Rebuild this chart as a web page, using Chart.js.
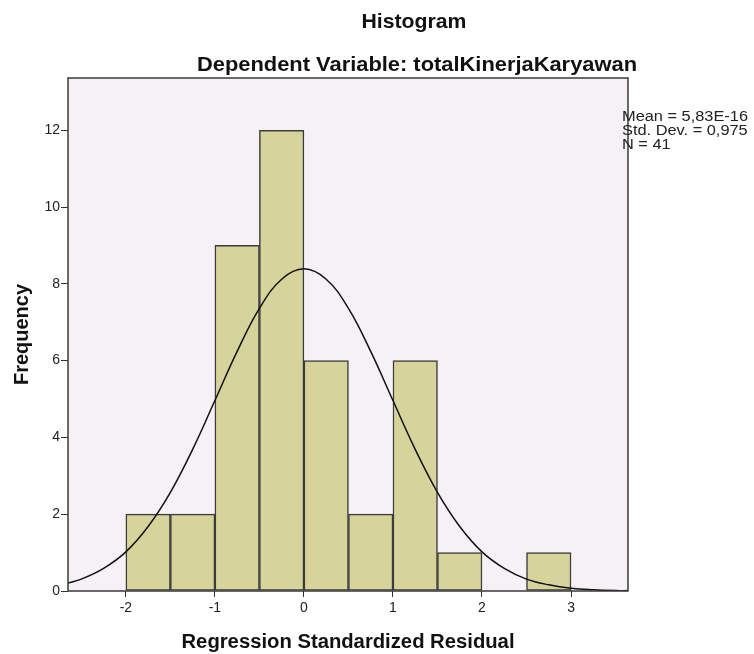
<!DOCTYPE html>
<html>
<head>
<meta charset="utf-8">
<script src="https://cdn.jsdelivr.net/npm/chart.js@4.4.0/dist/chart.umd.min.js"></script>
<style>
  html, body { margin: 0; padding: 0; background: #fff; }
  #wrap { width: 754px; height: 654px; position: relative; }
</style>
</head>
<body>
<div id="wrap"><canvas id="histo" width="754" height="654"></canvas></div>
<script>
// histogram bins (centres) and counts, bin width 0.5
const binCenters = [-1.75, -1.25, -0.75, -0.25, 0.25, 0.75, 1.25, 1.75, 2.25, 2.75];
const binCounts = [2, 2, 9, 12, 6, 2, 6, 1, 0, 1];

// normal curve
const curveX = [-2.65, -2.5, -2.25, -2, -1.75, -1.5, -1.25, -1, -0.75, -0.5, -0.25, 0,
  0.25, 0.5, 0.75, 1, 1.25, 1.5, 1.75, 2, 2.25, 2.5, 2.75, 3, 3.25, 3.5, 3.64];
const curveY = [0.21, 0.31, 0.59, 1.02, 1.68, 2.57, 3.69, 4.96, 6.24, 7.36, 8.12, 8.39,
  8.12, 7.36, 6.24, 4.96, 3.69, 2.57, 1.68, 1.02, 0.59, 0.31, 0.16, 0.07, 0.03, 0.01, 0.01];

const xTicks = [-2, -1, 0, 1, 2, 3];
const yTicks = [0, 2, 4, 6, 8, 10, 12];

const titleText = 'Histogram';
const subtitleText = 'Dependent Variable: totalKinerjaKaryawan';
const xTitle = 'Regression Standardized Residual';
const yTitle = 'Frequency';
const statsLines = ['Mean = 5,83E-16', 'Std. Dev. = 0,975', 'N = 41'];

const FONT = '"Liberation Sans", Arial, sans-serif';

// draw text squeezed/stretched horizontally to a given width
function fitText(ctx, text, x, y, font, width, align) {
  ctx.save();
  ctx.font = font;
  const w = ctx.measureText(text).width;
  const k = width / w;
  ctx.translate(x, y);
  ctx.scale(k, 1);
  ctx.textAlign = align || 'center';
  ctx.textBaseline = 'alphabetic';
  ctx.fillText(text, 0, 0);
  ctx.restore();
  return k;
}

// background of plot area + frame + texts
const decor = {
  id: 'decor',
  beforeDatasetsDraw(chart) {
    const { ctx, chartArea: a } = chart;
    ctx.save();
    ctx.fillStyle = '#f6f1f5';
    ctx.fillRect(a.left, a.top, a.right - a.left, a.bottom - a.top);
    ctx.restore();
  },
  afterDraw(chart) {
    const { ctx, chartArea: a } = chart;
    ctx.save();
    ctx.strokeStyle = '#3a3a3a';
    ctx.lineWidth = 1.5;
    ctx.strokeRect(a.left, a.top, a.right - a.left, a.bottom - a.top);

    ctx.fillStyle = '#111';
    fitText(ctx, titleText, 414, 28, 'bold 21px ' + FONT, 105);
    fitText(ctx, subtitleText, 417, 71, 'bold 21px ' + FONT, 440);
    fitText(ctx, xTitle, (a.left + a.right) / 2, 648, 'bold 20px ' + FONT, 333);

    ctx.save();
    ctx.translate(28, (a.top + a.bottom) / 2);
    ctx.rotate(-Math.PI / 2);
    fitText(ctx, yTitle, 0, 0, 'bold 20px ' + FONT, 101);
    ctx.restore();

    // stats box text
    ctx.fillStyle = '#222';
    ctx.font = '15.5px ' + FONT;
    const k = 126 / ctx.measureText(statsLines[0]).width;
    statsLines.forEach((s, i) => {
      ctx.save();
      ctx.translate(a.right - 6, 121 + i * 14);
      ctx.scale(k, 1);
      ctx.textAlign = 'left';
      ctx.fillText(s, 0, 0);
      ctx.restore();
    });
    ctx.restore();
  }
};

new Chart(document.getElementById('histo'), {
  type: 'bar',
  data: {
    datasets: [
      {
        type: 'line',
        data: curveX.map((x, i) => ({ x, y: curveY[i] })),
        borderColor: '#111',
        borderWidth: 1.5,
        pointRadius: 0,
        tension: 0.4,
        fill: false,
        order: 0
      },
      {
        type: 'bar',
        data: binCenters.map((x, i) => ({ x, y: binCounts[i] || null })),
        backgroundColor: '#d6d39b',
        borderColor: '#3c3c3c',
        borderWidth: 1.5,
        borderSkipped: false,
        barPercentage: 1,
        categoryPercentage: 1,
        order: 1
      }
    ]
  },
  options: {
    responsive: false,
    animation: false,
    layout: { padding: { top: 78, right: 126, bottom: 0, left: 0 } },
    plugins: { legend: { display: false }, tooltip: { enabled: false } },
    scales: {
      x: {
        type: 'linear',
        min: -2.65,
        max: 3.64,
        offset: false,
        afterBuildTicks: s => { s.ticks = xTicks.map(v => ({ value: v })); },
        afterFit: s => { s.height = 63; },
        grid: { drawOnChartArea: false, drawTicks: true, tickLength: 6, color: '#333', offset: false },
        border: { display: false },
        ticks: { color: '#222', font: { family: FONT, size: 14 }, padding: 3, maxRotation: 0 }
      },
      y: {
        min: 0,
        max: 13.36,
        afterBuildTicks: s => { s.ticks = yTicks.map(v => ({ value: v })); },
        afterFit: s => { s.width = 68; },
        grid: { drawOnChartArea: false, drawTicks: true, tickLength: 7, color: '#333' },
        border: { display: false },
        ticks: { color: '#222', font: { family: FONT, size: 14 }, padding: 1 }
      }
    }
  },
  plugins: [decor]
});
</script>
</body>
</html>
